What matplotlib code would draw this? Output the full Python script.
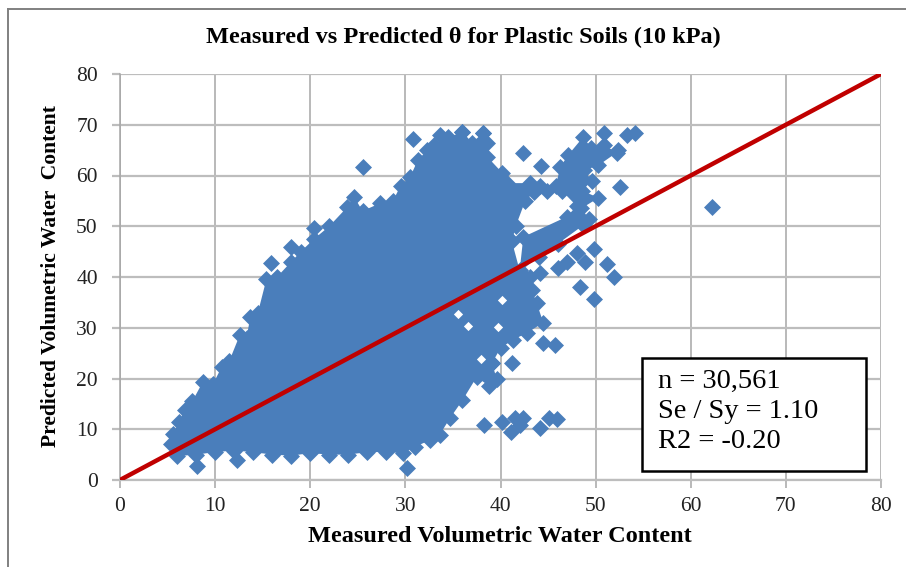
import matplotlib
matplotlib.use('Agg')
import matplotlib.pyplot as plt
from matplotlib.lines import Line2D
from matplotlib.patches import Rectangle

plt.rcParams['font.family'] = ['Liberation Serif', 'DejaVu Serif']

# dense part of the cloud, outline
body_x = [5.4, 5.6, 6.2, 6.8, 7.6, 8.7, 9.8, 10.7, 11.5, 12.6, 13.3, 13.7, 14.5, 15.4, 16.5, 18, 19, 20.4,
          22, 23.9, 24.6, 25.5, 27.3, 28.7, 29.5, 30.5, 31.3, 32.3, 33, 34.5, 36, 37, 38.2, 38.6, 38.6,
          40.2, 40.7, 43.1, 44.2, 44.9, 43.5, 42.6, 41.6, 41.2, 42, 43.1, 43.3, 43.8, 44.5, 42.8, 41.3,
          40, 39.1, 39.6, 38.8, 37.5, 36, 34.7, 33.6, 32.6, 31, 29.7, 28, 26, 24, 22, 20, 18, 16, 14, 12,
          10, 8, 6]
body_y = [7, 9, 11.5, 13.8, 15.5, 19.3, 19, 22.3, 23.5, 28.6, 28, 32.1, 33, 39.6, 40, 43, 45, 47.5,
          50, 53.8, 55.8, 53, 54.5, 55, 58, 59.7, 63, 65, 66, 67.5, 68.6, 66.5, 68.4, 66.4, 63.7,
          60.5, 58.5, 58.5, 58, 57, 56.7, 55, 50, 47, 41.4, 40, 37.4, 34.9, 31, 29, 27.6,
          26, 23, 20, 18.5, 20.3, 15.7, 12.2, 8.9, 7.9, 6.5, 5.3, 5.5, 5.5, 5, 5, 5.3, 4.8, 5, 5.5, 5.8,
          5.5, 5, 4.7]

# upper right branch of the cloud
wing_x = [42, 42.4, 47, 48, 46.5, 45.8, 46.3, 47.1, 48.7, 49.5, 50.9, 52.2, 50.3, 48.8, 49.6, 48.6, 50.3,
          48.5, 49.3, 48.7, 46, 44]
wing_y = [41, 47.9, 51.9, 54, 56.9, 58, 61.7, 64, 67.6, 65.5, 66, 64.5, 62, 61, 59, 57, 55.6,
          53.5, 51.5, 50.2, 46.5, 44]

# single points standing clear of the cloud
single_x = [25.5, 18, 15.9, 20.4, 8.1, 12.3, 30.2, 30.8, 33.6, 36, 38.2, 42.4, 44.3, 52.3, 53.3, 54.1,
            52.6, 50.9, 62.2, 49.8, 48, 48.9, 47, 46, 44.2, 51.2, 51.9, 48.4, 49.8, 44.5, 45.7, 41.2,
            38.3, 40.2, 41.5, 41.1, 42.4, 42, 44.1, 45.1, 45.9, 39.1]
single_y = [61.7, 45.9, 42.7, 49.6, 2.8, 4, 2.4, 67.2, 68, 68.6, 68.4, 64.4, 61.9, 65, 68, 68.3,
            57.8, 68.3, 53.8, 45.5, 44.7, 43, 43, 41.8, 40.8, 42.6, 40, 38, 35.6, 27, 26.6, 23,
            10.8, 11.4, 12.2, 9.5, 12.2, 10.8, 10.2, 12.2, 12, 23]

# small white specks left open inside the cloud
gap_x = [35.5, 39.7, 37.9, 40.2, 36.6]
gap_y = [32.7, 30.2, 23.8, 35.5, 30.4]

line_x = [0, 80]
line_y = [0, 80]

ticks = [0, 10, 20, 30, 40, 50, 60, 70, 80]
stats = ['n = 30,561', 'Se / Sy = 1.10', 'R2 = -0.20']

W, H = 906, 567
fig = plt.figure(figsize=(W / 100, H / 100), dpi=100)
ax = fig.add_axes([120 / W, 1 - 480 / H, 761 / W, 406 / H])

ax.set_xlim(0, 80)
ax.set_ylim(0, 80)
ax.set_xticks(ticks)
ax.set_yticks(ticks)
ax.set_axisbelow(True)
ax.xaxis.grid(True, color='#a6a6a6', lw=1.1)
ax.yaxis.grid(True, color='#bdbdbd', lw=1.6)
for s in ['top', 'right']:
    ax.spines[s].set_visible(False)
ax.spines['left'].set_color('#a6a6a6')
ax.spines['bottom'].set_color('#bdbdbd')
ax.spines['left'].set_linewidth(1.1)
ax.spines['bottom'].set_linewidth(1.6)
ax.tick_params(axis='x', length=6, width=1.1, color='#a6a6a6', labelsize=15.5, pad=6, labelcolor='#222222')
ax.tick_params(axis='y', length=6, width=1.6, color='#bdbdbd', labelsize=15.5, pad=10, labelcolor='#222222')

blue = '#4a7ebb'
ax.fill(body_x, body_y, color=blue, lw=0, zorder=3)
ax.fill(wing_x, wing_y, color=blue, lw=0, zorder=3)
ax.scatter(body_x, body_y, marker='D', s=75, color=blue, lw=0, zorder=3, clip_on=False)
ax.scatter(wing_x, wing_y, marker='D', s=75, color=blue, lw=0, zorder=3)
ax.scatter(single_x, single_y, marker='D', s=75, color=blue, lw=0, zorder=3)
ax.scatter(gap_x, gap_y, marker='D', s=22, color='white', lw=0, zorder=3)
ax.plot(line_x, line_y, color='#c00000', lw=3.2, zorder=4)

fig.text(463 / W, 1 - 37 / H, 'Measured vs Predicted θ for Plastic Soils (10 kPa)',
         ha='center', va='center', fontsize=17.5, fontweight='bold')
fig.text(500 / W, 1 - 536 / H, 'Measured Volumetric Water Content',
         ha='center', va='center', fontsize=17.5, fontweight='bold')
fig.text(51 / W, 1 - 276 / H, 'Predicted Volumetric Water  Content',
         ha='center', va='center', rotation=90, fontsize=15.5, fontweight='bold')

# stats box
fig.add_artist(Rectangle((642 / W, 1 - 471 / H), 224 / W, 113 / H, transform=fig.transFigure,
                         fc='white', ec='black', lw=1.8, zorder=6))
for label, y in zip(stats, [381, 412, 441]):
    fig.text(658 / W, 1 - y / H, label, ha='left', va='center', fontsize=20.5, zorder=7)

# outer chart frame, cut off by the picture on the right and at the bottom
fig.add_artist(Line2D([8 / W, 8 / W], [0, 1 - 9 / H], color='#808080', lw=1.4))
fig.add_artist(Line2D([8 / W, 1], [1 - 9 / H, 1 - 9 / H], color='#808080', lw=1.4))

fig.savefig('out.png', dpi=100)
